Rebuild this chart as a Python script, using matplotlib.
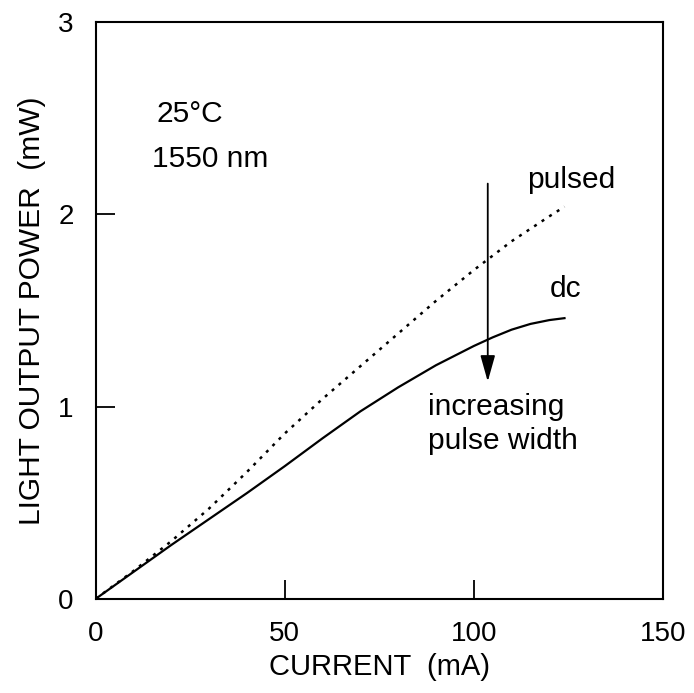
import matplotlib.pyplot as plt

plt.rcParams['font.family'] = ['Liberation Sans', 'DejaVu Sans']

# datos
corriente_pulsed = [0, 10, 20, 30, 40, 50, 60, 70, 80, 90, 100, 110, 120, 124]
potencia_pulsed = [0, 0.145, 0.30, 0.47, 0.66, 0.86, 1.04, 1.21, 1.38, 1.55,
                   1.71, 1.86, 1.99, 2.04]

corriente_dc = [0, 10, 20, 30, 40, 50, 60, 70, 80, 90, 100, 105, 110, 115,
                120, 124]
potencia_dc = [0, 0.14, 0.28, 0.415, 0.55, 0.69, 0.835, 0.975, 1.10, 1.215,
               1.315, 1.36, 1.40, 1.43, 1.45, 1.46]

xticks = [0, 50, 100, 150]
yticks = [0, 1, 2, 3]

fig = plt.figure(figsize=(6.94, 6.93), dpi=100)
ax = fig.add_axes([0.138, 0.136, 0.817, 0.832])

ax.plot(corriente_dc, potencia_dc, color="black", linewidth=1.6)
ax.plot(corriente_pulsed, potencia_pulsed, color="black", linewidth=1.8,
        linestyle=(0, (1.2, 2.4)))

ax.set_xlim(0, 150)
ax.set_ylim(0, 3)
ax.set_xticks(xticks)
ax.set_yticks(yticks)
ax.tick_params(direction="in", length=14, width=1.3, labelsize=20, pad=16)
for s in ax.spines.values():
    s.set_linewidth(1.5)

ax.set_xlabel("CURRENT  (mA)", fontsize=21, labelpad=4)
ax.set_ylabel("LIGHT OUTPUT POWER  (mW)", fontsize=21.5, labelpad=9)

# anotaciones
tam = 21.5
ax.text(16, 2.52, "25°C", fontsize=tam, ha="left", va="center")
ax.text(15, 2.29, "1550 nm", fontsize=tam, ha="left", va="center")
ax.text(114, 2.18, "pulsed", fontsize=tam, ha="left", va="center")
ax.text(120, 1.61, "dc", fontsize=tam, ha="left", va="center")
ax.text(88, 1.0, "increasing", fontsize=tam, ha="left", va="center")
ax.text(88, 0.82, "pulse width", fontsize=tam, ha="left", va="center")

ax.annotate("", xy=(103.7, 1.13), xytext=(103.7, 2.16),
            arrowprops=dict(arrowstyle="-|>,head_length=1.6,head_width=0.45",
                            color="black", linewidth=1.3, shrinkA=0, shrinkB=0))

plt.savefig("out.png", dpi=100)
